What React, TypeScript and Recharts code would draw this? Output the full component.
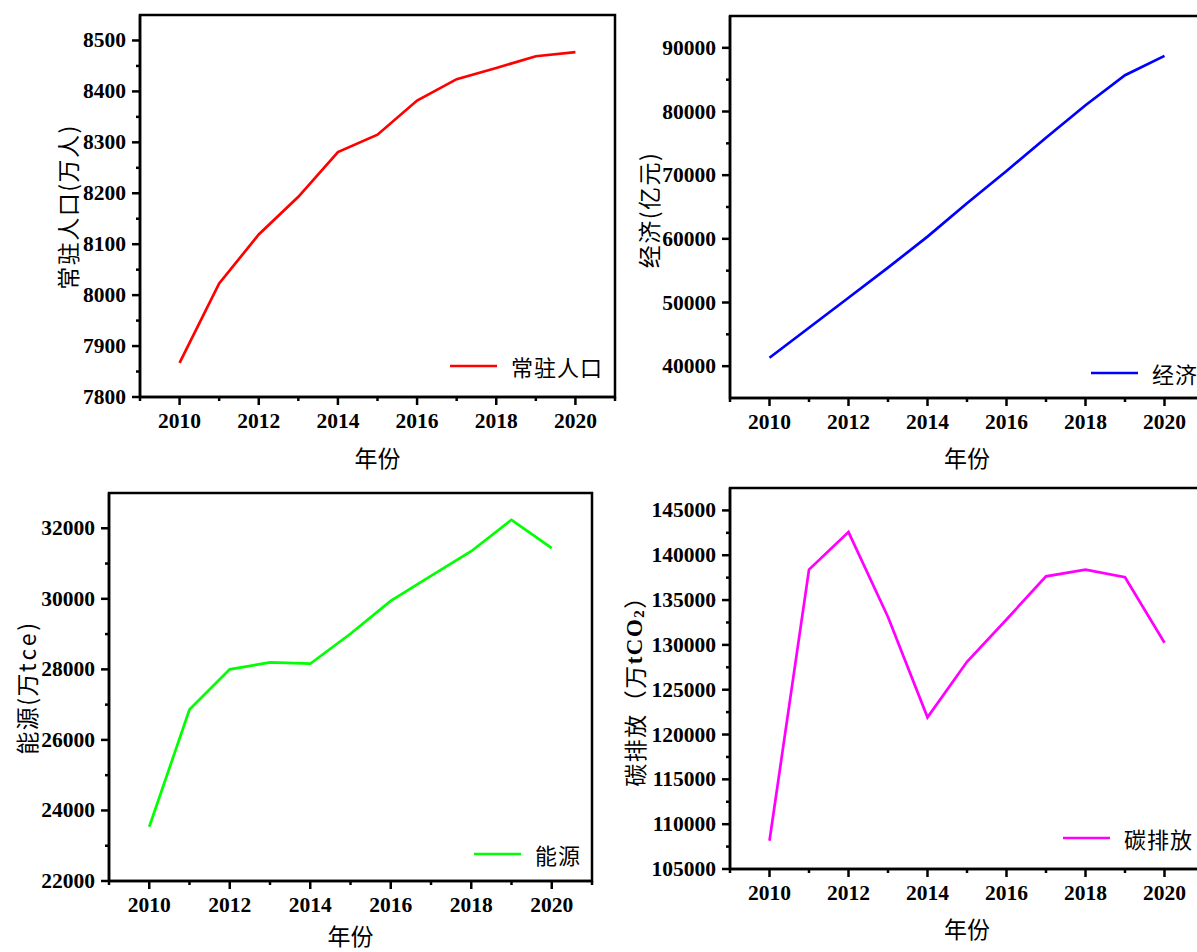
import React from 'react';
import { LineChart, Line, XAxis, YAxis, Legend, ReferenceArea, Label } from 'recharts';

// 年份
const years = [2010, 2011, 2012, 2013, 2014, 2015, 2016, 2017, 2018, 2019, 2020];

// series
const population = [7867, 8023, 8119, 8193, 8281, 8315, 8382, 8424, 8446, 8469, 8477];
const economy = [41320, 46040, 50750, 55470, 60350, 65580, 70660, 75880, 80990, 85700, 88740];
const energy = [23537, 26860, 28000, 28200, 28160, 29010, 29940, 30650, 31350, 32240, 31440];
const carbon = [108150, 138400, 142580, 133120, 121920, 128110, 132830, 137650, 138400, 137540, 130230];

// axis ticks
const yearTicks = [2009, 2010, 2011, 2012, 2013, 2014, 2015, 2016, 2017, 2018, 2019, 2020, 2021];
const yearMajor = [2010, 2012, 2014, 2016, 2018, 2020];
const populationTicks = [7800, 7900, 8000, 8100, 8200, 8300, 8400, 8500];
const economyTicks = [40000, 50000, 60000, 70000, 80000, 90000];
const energyTicks = [22000, 24000, 26000, 28000, 30000, 32000];
const carbonTicks = [105000, 110000, 115000, 120000, 125000, 130000, 135000, 140000, 145000];

const data = years.map((year, i) => ({
  year,
  population: population[i],
  economy: economy[i],
  energy: energy[i],
  carbon: carbon[i],
}));

const withMinor = (major: number[]) => {
  const out: number[] = [];
  major.forEach((v, i) => {
    out.push(v);
    if (i < major.length - 1) out.push((v + major[i + 1]) / 2);
  });
  return out;
};

const serif = "'Times New Roman', 'Liberation Serif', serif";
const tickFont = { fontFamily: serif, fontWeight: 700, fontSize: 21.5, fill: '#000' };
const cjkFont = {
  fontFamily: "'Noto Sans CJK SC', sans-serif",
  fontSize: 23,
  fill: '#000',
};

const makeYTick = (major: number[]) => (props: any) => {
  const { x, y, payload } = props;
  const isMajor = major.includes(payload.value);
  return (
    <g>
      <line x1={x - (isMajor ? 8 : 4)} x2={x} y1={y} y2={y} stroke="#000" strokeWidth={2.5} />
      {isMajor && (
        <text x={x - 14} y={y} textAnchor="end" dominantBaseline="central" style={tickFont}>
          {payload.value}
        </text>
      )}
    </g>
  );
};

const XTick = (props: any) => {
  const { x, y, payload } = props;
  const isMajor = yearMajor.includes(payload.value);
  return (
    <g>
      <line x1={x} x2={x} y1={y} y2={y + (isMajor ? 8 : 4)} stroke="#000" strokeWidth={2.5} />
      {isMajor && (
        <text x={x} y={y + 23.5} textAnchor="middle" dominantBaseline="central" style={tickFont}>
          {payload.value}
        </text>
      )}
    </g>
  );
};

const yTitle = (content: React.ReactNode, dx: number, dy: number) => (props: any) => {
  const { x, y, width, height } = props.viewBox;
  const cx = x + width + dx;
  const cy = y + height / 2 + dy;
  return (
    <text
      x={cx}
      y={cy}
      transform={`rotate(-90 ${cx} ${cy})`}
      textAnchor="middle"
      dominantBaseline="central"
      letterSpacing={1.5}
      style={cjkFont}
    >
      {content}
    </text>
  );
};

const xTitle = (dy: number) => (props: any) => {
  const { x, y, width } = props.viewBox;
  return (
    <text x={x + width / 2} y={y + dy} textAnchor="middle" dominantBaseline="central" style={cjkFont}>
      年份
    </text>
  );
};

const legendContent = (props: any) => (
  <div style={{ display: 'flex', alignItems: 'center', height: 30, whiteSpace: 'nowrap' }}>
    {(props.payload || []).map((entry: any) => (
      <React.Fragment key={entry.value}>
        <svg width={47} height={6}>
          <line x1={0} x2={47} y1={3} y2={3} stroke={entry.color} strokeWidth={2.7} />
        </svg>
        <span
          style={{
            marginLeft: 14,
            fontFamily: "'Noto Sans CJK SC', sans-serif",
            fontSize: 22,
            letterSpacing: 1,
            color: '#000',
            lineHeight: '30px',
          }}
        >
          {entry.value}
        </span>
      </React.Fragment>
    ))}
  </div>
);

type PanelProps = {
  left: number;
  top: number;
  height: number;
  margin: { top: number; right: number; left: number; bottom: number };
  yWidth: number;
  xHeight: number;
  xTitleDy: number;
  dataKey: string;
  name: string;
  color: string;
  domain: [number, number];
  major: number[];
  title: React.ReactNode;
  titleDx: number;
  titleDy: number;
  legendLeft: number;
  legendTop: number;
};

function Panel(p: PanelProps) {
  return (
    <div style={{ position: 'absolute', left: p.left, top: p.top }}>
      <LineChart width={620} height={p.height} data={data} margin={p.margin}>
        <XAxis
          dataKey="year"
          type="number"
          domain={[2009, 2021]}
          ticks={yearTicks}
          interval={0}
          height={p.xHeight}
          tickSize={0}
          tickMargin={0}
          tickLine={false}
          axisLine={{ stroke: '#000', strokeWidth: 2.5 }}
          tick={XTick}
        >
          <Label content={xTitle(p.xTitleDy)} />
        </XAxis>
        <YAxis
          type="number"
          domain={p.domain}
          ticks={withMinor(p.major)}
          interval={0}
          width={p.yWidth}
          tickSize={0}
          tickMargin={0}
          tickLine={false}
          axisLine={{ stroke: '#000', strokeWidth: 2.5 }}
          tick={makeYTick(p.major)}
        >
          <Label content={yTitle(p.title, p.titleDx, p.titleDy)} />
        </YAxis>
        <ReferenceArea
          x1={2009}
          x2={2021}
          y1={p.domain[0]}
          y2={p.domain[1]}
          fill="none"
          stroke="#000"
          strokeWidth={2.5}
        />
        <Line
          type="linear"
          dataKey={p.dataKey}
          name={p.name}
          stroke={p.color}
          strokeWidth={2.7}
          dot={false}
          activeDot={false}
          isAnimationActive={false}
        />
        <Legend
          layout="horizontal"
          align="center"
          verticalAlign="middle"
          content={legendContent}
          wrapperStyle={{ left: p.legendLeft, top: p.legendTop, width: 'auto' }}
        />
      </LineChart>
    </div>
  );
}

export default function App() {
  return (
    <div
      style={{
        position: 'absolute',
        left: 0,
        top: 0,
        width: 1197,
        height: 952,
        overflow: 'hidden',
        background: '#fff',
      }}
    >
      <Panel
        left={0}
        top={0}
        height={480}
        margin={{ top: 15, right: 5, left: 0, bottom: 0 }}
        yWidth={140}
        xHeight={83}
        xTitleDy={60}
        dataKey="population"
        name="常驻人口"
        color="#ff0000"
        domain={[7800, 8550]}
        major={populationTicks}
        title="常驻人口(万人)"
        titleDx={-73}
        titleDy={1}
        legendLeft={450}
        legendTop={351}
      />
      <Panel
        left={600}
        top={0}
        height={480}
        margin={{ top: 16, right: 16, left: 0, bottom: 0 }}
        yWidth={130}
        xHeight={82}
        xTitleDy={59}
        dataKey="economy"
        name="经济"
        color="#0000ff"
        domain={[35000, 95000]}
        major={economyTicks}
        title="经济(亿元)"
        titleDx={-82}
        titleDy={3}
        legendLeft={491}
        legendTop={358}
      />
      <Panel
        left={0}
        top={480}
        height={472}
        margin={{ top: 13, right: 28, left: 0, bottom: 0 }}
        yWidth={109}
        xHeight={71}
        xTitleDy={54}
        dataKey="energy"
        name="能源"
        color="#00ff00"
        domain={[22000, 33000]}
        major={energyTicks}
        title={
          <>
            <tspan>能源(万</tspan>
            <tspan letterSpacing={3}>tce</tspan>
            <tspan>)</tspan>
          </>
        }
        titleDx={-83}
        titleDy={1}
        legendLeft={474}
        legendTop={359}
      />
      <Panel
        left={600}
        top={480}
        height={472}
        margin={{ top: 8, right: 16, left: 0, bottom: 0 }}
        yWidth={130}
        xHeight={83}
        xTitleDy={59}
        dataKey="carbon"
        name="碳排放"
        color="#ff00ff"
        domain={[105000, 147500]}
        major={carbonTicks}
        title={
          <>
            <tspan>碳排放（万</tspan>
            <tspan fontFamily={serif} fontWeight={700}>
              tCO
            </tspan>
            <tspan fontFamily={serif} fontWeight={700} fontSize={15} dy={5}>
              2
            </tspan>
            <tspan dy={-5}>）</tspan>
          </>
        }
        titleDx={-96}
        titleDy={7}
        legendLeft={463}
        legendTop={343}
      />
    </div>
  );
}
